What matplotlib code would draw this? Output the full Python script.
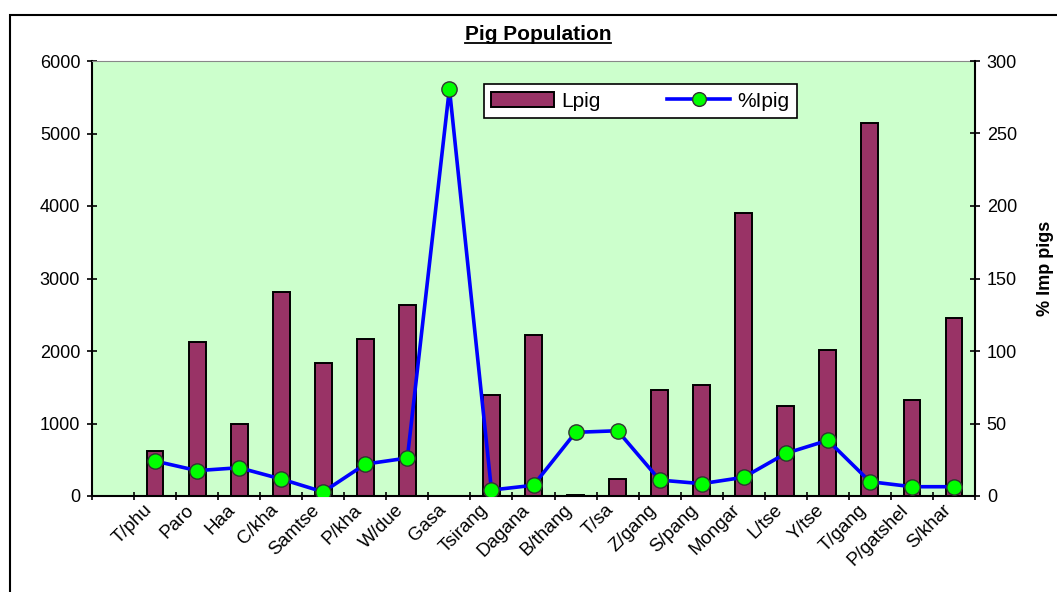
import numpy as np
import matplotlib
matplotlib.use("Agg")
from matplotlib import pyplot as plt
from matplotlib.patches import Rectangle
from matplotlib.lines import Line2D

plt.rcParams['font.family'] = ['Liberation Sans', 'DejaVu Sans']

# data
districts = ['T/phu', 'Paro', 'Haa', 'C/kha', 'Samtse', 'P/kha', 'W/due', 'Gasa', 'Tsirang', 'Dagana',
             'B/thang', 'T/sa', 'Z/gang', 'S/pang', 'Mongar', 'L/tse', 'Y/tse', 'T/gang', 'P/gatshel', 'S/khar']
lpig = [620, 2130, 1000, 2815, 1840, 2170, 2640, 0, 1395, 2215,
        15, 235, 1460, 1530, 3905, 1240, 2020, 5150, 1325, 2455]
pct_ipig = [24.1, 17.5, 19.5, 11.7, 2.8, 22.0, 26.2, 281.0, 4.1, 7.4,
            43.9, 45.0, 11.0, 8.5, 12.9, 29.4, 38.4, 9.9, 6.4, 6.4]

W, H = 1057, 592
fig = plt.figure(figsize=(W / 100, H / 100), dpi=100)
ax = fig.add_axes([92 / W, 1 - 496 / H, (975 - 92) / W, (496 - 61) / H])
ax.set_facecolor('#CCFFCC')

x = np.arange(len(districts))
bars = ax.bar(x, lpig, width=0.4, color='#993366', edgecolor='black', linewidth=1.4, label='Lpig', zorder=2)

ax.set_xlim(-1.5, len(districts) - 0.5)
ax.set_ylim(0, 6000)
ax.set_yticks(np.arange(0, 6001, 1000))
ax.set_xticks(np.arange(-1.5, len(districts), 1))
ax.set_xticklabels([])
ax.set_xticks(x, minor=True)
ax.set_xticklabels(districts, minor=True, rotation=45, ha='right', fontsize=13.5)
ax.tick_params(axis='x', which='minor', length=0, pad=4)
ax.tick_params(axis='x', which='major', direction='inout', length=6, width=1.2)
ax.tick_params(axis='y', direction='inout', length=7, width=1.2, labelsize=13, pad=5)

for side in ['left', 'bottom']:
    ax.spines[side].set_linewidth(1.5)
ax.spines['top'].set_color('#888888')
ax.spines['right'].set_visible(False)

ax2 = ax.twinx()
line, = ax2.plot(x, pct_ipig, '-o', color='#0000FF', linewidth=2.6, markersize=11,
                 markerfacecolor='#00FF00', markeredgecolor='#333333', markeredgewidth=1,
                 label='%Ipig', zorder=3)
ax2.set_ylim(0, 300)
ax2.set_yticks(np.arange(0, 301, 50))
ax2.tick_params(axis='y', direction='inout', length=7, width=1.2, labelsize=13, pad=5)
ax2.spines['right'].set_linewidth(1.5)
ax2.spines['top'].set_visible(False)
ax2.spines['left'].set_visible(False)
ax2.spines['bottom'].set_visible(False)

leg = ax2.legend([bars, line], ['Lpig', '%Ipig'], ncol=2, loc='center',
                 bbox_to_anchor=(0.621, 0.908), fontsize=15, frameon=True, fancybox=False,
                 borderpad=0.35, handlelength=3.0, handletextpad=0.35, columnspacing=3.2,
                 borderaxespad=0, markerscale=0.9)
leg.get_frame().set_edgecolor('black')
leg.get_frame().set_linewidth(1.2)
leg.get_frame().set_alpha(1)

fig.text(1045 / W, 1 - 268 / H, '% Imp pigs', rotation=90, ha='center', va='center',
         fontsize=13, fontweight='bold')

# title with underline
title = fig.text(538 / W, 1 - 40 / H, 'Pig Population', ha='center', va='baseline',
                 fontsize=15, fontweight='bold')
fig.canvas.draw()
bb = title.get_window_extent()
fig.add_artist(Line2D([bb.x0 / W, bb.x1 / W], [(1 - 43 / H), (1 - 43 / H)], color='black', linewidth=1.3))

# outer chart border
fig.add_artist(Rectangle((10 / W, -0.1), 1.2, 1 - 15 / H + 0.1, fill=False, edgecolor='black',
                         linewidth=1.5, transform=fig.transFigure))

plt.savefig('out.png', dpi=100)
